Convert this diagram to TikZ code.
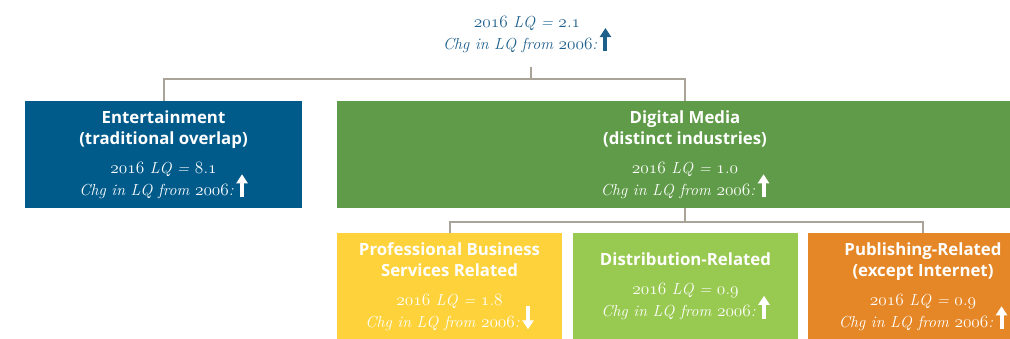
\documentclass[tikz,border=0pt]{standalone}
\usepackage{fontspec}
\setsansfont{Open Sans}
\usetikzlibrary{arrows.meta}

\definecolor{entblue}{RGB}{0,91,139}
\definecolor{digigreen}{RGB}{95,155,72}
\definecolor{pbsyellow}{RGB}{254,210,58}
\definecolor{distgreen}{RGB}{152,201,80}
\definecolor{puborange}{RGB}{229,135,39}
\definecolor{linkgray}{RGB}{169,164,151}
\definecolor{topblue}{RGB}{30,96,140}

% old style figures
\newcommand\osn[1]{{\usefont{OML}{cmm}{m}{it}#1}}
\newcommand\chgup[1][white]{\smash{\tikz[baseline=1pt]\draw[#1,line width=4pt,-{Triangle[width=11pt,length=9pt]}] (0pt,-1pt) -- (0pt,22pt);}}
\newcommand\chgdown[1][white]{\smash{\tikz[baseline=1pt]\draw[#1,line width=4pt,-{Triangle[width=11pt,length=9pt]}] (0pt,22pt) -- (0pt,-1pt);}}
\newcommand\lqinfo[3]{{\rmfamily\mdseries\itshape\fontsize{16}{21}\selectfont \osn{2016} LQ = \osn{#1}.\osn{#2}}\\[1pt]{\rmfamily\mdseries\itshape\fontsize{16}{21}\selectfont Chg in LQ from \osn{2006}:}\,#3}

\tikzset{
  box/.style={minimum height=107, inner sep=0, text=white, align=center,
    font=\sffamily\bfseries\fontsize{16.8}{21}\selectfont},
  link/.style={draw=linkgray, line width=2pt},
}

\begin{document}
\begin{tikzpicture}[x=1pt, y=-1pt]
    \useasboundingbox (0,0) rectangle (1010,338);

    % cluster total
    \node[align=center, text=topblue, font=\fontsize{16}{21}\selectfont] (cluster) at (527,34)
        {\lqinfo{2}{1}{\chgup[topblue]}};
    \coordinate (stemtop) at (531,67);
    \coordinate (topjoin) at (531,79);

    % first level
    \node[box, fill=entblue, minimum width=277] (ent) at (163.5,154.5)
        {Entertainment\\(traditional overlap)\\[8pt]\lqinfo{8}{1}{\chgup}};
    \node[box, fill=digigreen, minimum width=696] (dig) at (685,154.5)
        {Digital Media\\(distinct industries)\\[8pt]\lqinfo{1}{0}{\chgup}};

    \draw[link] (stemtop) -- (topjoin);
    \draw[link] (ent.north) |- (topjoin) -| (dig.north);

    % second level
    \node[box, fill=pbsyellow, minimum width=225] (pbs) at (449.5,286.5)
        {Professional Business\\Services Related\\[8pt]\lqinfo{1}{8}{\chgdown}};
    \node[box, fill=distgreen, minimum width=225] (dist) at (685.5,286.5)
        {Distribution-Related\\[8pt]\lqinfo{0}{9}{\chgup}};
    \node[box, fill=puborange, minimum width=230] (pub) at (923,286.5)
        {Publishing-Related\\(except Internet)\\[8pt]\lqinfo{0}{9}{\chgup}};

    \coordinate (midjoin) at (685,222);
    \draw[link] (dig.south) -- (midjoin);
    \draw[link] (pbs.north) |- (midjoin) -| (pub.north);
\end{tikzpicture}
\end{document}
